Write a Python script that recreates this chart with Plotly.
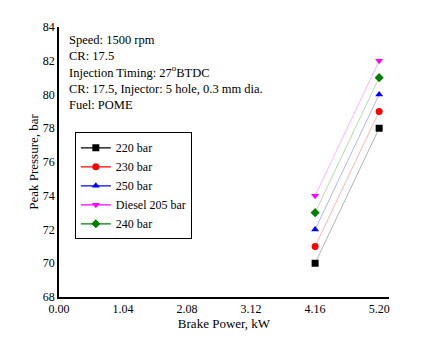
import plotly.graph_objects as go

brake_power = [4.16, 5.20]
series_names = ["220 bar", "230 bar", "250 bar", "Diesel 205 bar", "240 bar"]
series_values = [
    [70, 78],
    [71, 79],
    [72, 80],
    [74, 82],
    [73, 81],
]
colors = ["#000000", "#ff0000", "#0000ff", "#ff00ff", "#008000"]
line_colors = ["rgba(0,0,0,0.3)", "rgba(255,0,0,0.3)", "rgba(0,0,255,0.3)",
               "rgba(255,0,255,0.3)", "rgba(0,128,0,0.3)"]
symbols = ["square", "circle", "triangle-up", "triangle-down", "diamond"]
x_ticks = [0.00, 1.04, 2.08, 3.12, 4.16, 5.20]
y_ticks = [68, 70, 72, 74, 76, 78, 80, 82, 84]

font = "Liberation Serif, Times New Roman, serif"
fig = go.Figure()
for name, vals, c, lc, s in zip(series_names, series_values, colors, line_colors, symbols):
    fig.add_trace(go.Scatter(x=brake_power, y=vals, mode="lines+markers", name=name,
                             line=dict(color=lc, width=1),
                             marker=dict(color=c, symbol=s, size=7),
                             showlegend=False))
for name, c, s in zip(series_names, colors, symbols):
    fig.add_trace(go.Scatter(x=[None], y=[None], mode="lines+markers", name=name,
                             line=dict(color=c, width=1.2),
                             marker=dict(color=c, symbol=s, size=7)))

fig.update_layout(
    width=441, height=350,
    margin=dict(l=59, r=52, t=27, b=53),
    paper_bgcolor="white", plot_bgcolor="white",
    font=dict(family=font, size=12, color="black"),
    showlegend=True,
    legend=dict(x=0.048, y=0.61, xanchor="left", yanchor="top",
                bordercolor="black", borderwidth=1, bgcolor="white",
                font=dict(family=font, size=12), tracegroupgap=0,
                itemwidth=30),
    xaxis=dict(range=[0, 5.36], tickvals=x_ticks, tickformat=".2f",
               showline=True, linecolor="black", linewidth=1.5,
               showgrid=False, zeroline=False, ticks="", ticklabelstandoff=0,
               title=dict(text="Brake Power, kW", font=dict(family=font, size=13), standoff=4)),
    yaxis=dict(range=[68, 84], tickvals=y_ticks,
               showline=True, linecolor="black", linewidth=1.5,
               showgrid=False, zeroline=False, ticks="", ticklabelstandoff=0,
               title=dict(text="Peak Pressure, bar", font=dict(family=font, size=13), standoff=1)),
    annotations=[dict(
        x=0.024, y=0.985, xref="paper", yref="paper", xanchor="left", yanchor="top",
        align="left", showarrow=False, font=dict(family=font, size=12.5),
        text="Speed: 1500 rpm<br>CR: 17.5<br>Injection Timing: 27<sup>o</sup>BTDC<br>"
             "CR: 17.5, Injector: 5 hole, 0.3 mm dia.<br>Fuel: POME")],
)
fig.write_html("out.html")
